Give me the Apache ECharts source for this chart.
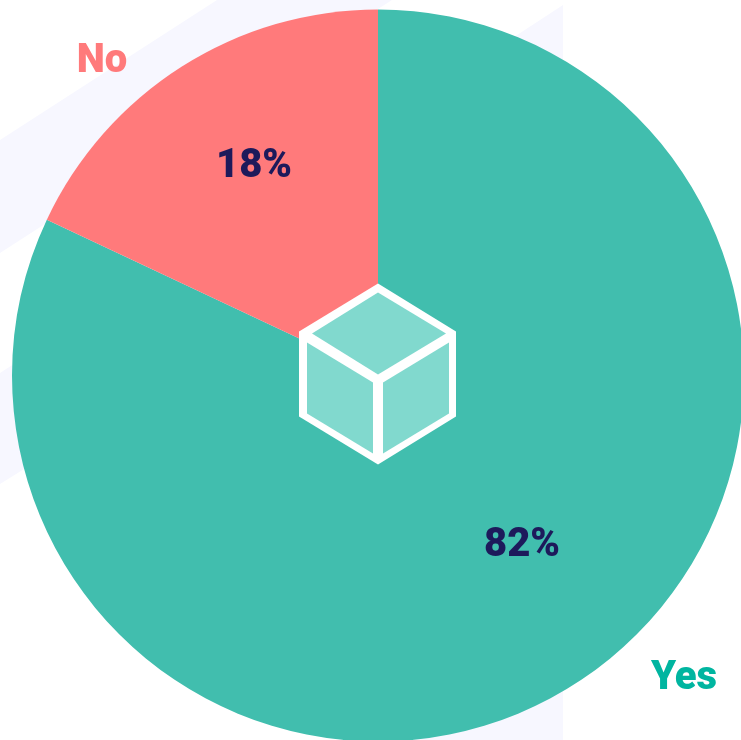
<!DOCTYPE html>
<html>
<head>
<meta charset="utf-8">
<style>html,body{margin:0;padding:0;background:#fff}#c{width:741px;height:740px}</style>
<script src="https://cdn.jsdelivr.net/npm/echarts@6/dist/echarts.min.js"></script>
</head>
<body>
<div id="c"></div>
<script>
// Survey split shown as a full pie with an isometric cube at the hub.
const categories = ['Yes', 'No'];
const shares = [82, 18];
const sliceColors = ['#41BEAE', '#FF7A7B'];
const nameColors = ['#00B5A0', '#FF7A7B'];
const percentColor = '#1D1A5B';

const cx = 378, cy = 375.5, radius = 366;
const percentAnchors = [[522, 546], [254, 167]];
const nameAnchors = [[684, 679], [102, 62]];

const pieData = categories.map((name, i) => ({
  name, value: shares[i], itemStyle: { color: sliceColors[i] }
}));

// Backdrop bands behind the pie
const bandFill = '#F7F7FF';
const bands = [
  [[0, 140], [217, 0], [392, 0], [0, 253]],
  [[563, 5], [0, 373], [0, 484], [200, 360], [400, 740], [563, 740]]
];

// Cube: white hexagon with three tinted faces, as offsets from the pie centre
const cubeOutline = [[0, -92], [78, -44], [78, 41], [0, 89], [-79, 41], [-79, -44]];
const cubeFaces = [
  [[0, -83], [68, -42], [0, -1], [-66, -42]],
  [[-71, -33], [-5, 7], [-5, 78], [-71, 38]],
  [[5, 7], [71, -33], [71, 38], [5, 78]]
];
const atCentre = pts => pts.map(p => [cx + p[0], cy + p[1]]);

const chart = echarts.init(document.getElementById('c'), null, { renderer: 'canvas' });
chart.setOption({
  animation: false,
  graphic: [
    ...bands.map(points => ({
      type: 'polygon', z: -10, silent: true,
      shape: { points }, style: { fill: bandFill }
    })),
    {
      type: 'polygon', z: 10, silent: true,
      shape: { points: atCentre(cubeOutline) }, style: { fill: '#FFFFFF' }
    },
    ...cubeFaces.map(face => ({
      type: 'polygon', z: 11, silent: true,
      shape: { points: atCentre(face) }, style: { fill: '#81D9CE' }
    }))
  ],
  series: [
    {
      type: 'pie',
      center: [cx, cy],
      radius: [0, radius],
      startAngle: 90,
      clockwise: true,
      silent: true,
      data: pieData,
      label: {
        show: true,
        position: 'inside',
        formatter: '{c}%',
        color: percentColor,
        fontFamily: 'Roboto',
        fontWeight: 900,
        fontSize: 40
      },
      labelLine: { show: false },
      labelLayout: p => ({
        x: percentAnchors[p.dataIndex][0],
        y: percentAnchors[p.dataIndex][1],
        align: 'center',
        verticalAlign: 'middle'
      })
    },
    {
      // Invisible twin that carries the category names outside the rim
      type: 'pie',
      center: [cx, cy],
      radius: [0, radius],
      startAngle: 90,
      silent: true,
      data: categories.map((name, i) => ({
        name, value: shares[i],
        itemStyle: { color: 'transparent' },
        label: { color: nameColors[i] }
      })),
      label: {
        show: true,
        position: 'outside',
        formatter: '{b}',
        fontFamily: 'Roboto',
        fontWeight: 900,
        fontSize: 40
      },
      labelLine: { show: false },
      labelLayout: p => ({
        x: nameAnchors[p.dataIndex][0],
        y: nameAnchors[p.dataIndex][1],
        align: 'center',
        verticalAlign: 'middle'
      })
    }
  ]
});
</script>
</body>
</html>
